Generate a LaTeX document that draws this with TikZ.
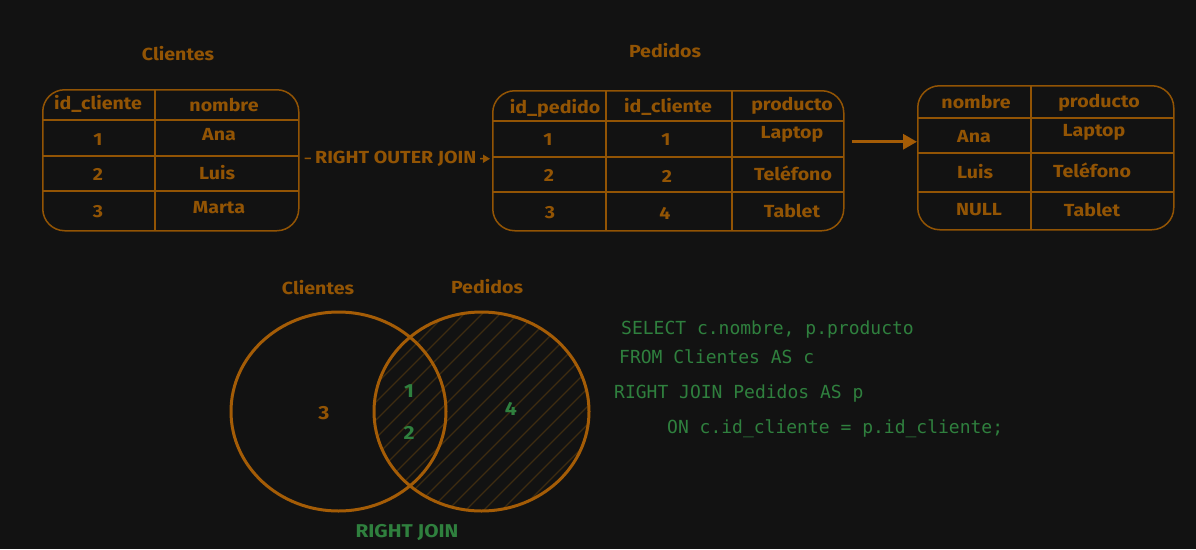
\documentclass[tikz,border=0pt]{standalone}
\usepackage{fontspec}
\setmainfont{Fira Sans}[BoldFeatures={FakeStretch=1.12}]
\setmonofont{DejaVu Sans Mono}
\usetikzlibrary{arrows.meta,calc}
\definecolor{bg}{RGB}{18,18,18}
\definecolor{org}{RGB}{146,84,4}
\definecolor{orgc}{RGB}{164,92,6}
\definecolor{grn}{RGB}{47,128,62}
\definecolor{hatchc}{RGB}{62,44,16}
\tikzset{
  tbl/.style={draw=org, line width=1.5pt, rounded corners=22pt, anchor=north west, inner sep=0pt},
  tline/.style={draw=org, line width=1.5pt},
  cell/.style={text=org, font=\fontsize{17.5}{20}\selectfont\bfseries, inner sep=0pt},
  ttl/.style={text=org, font=\fontsize{17.5}{20}\selectfont\bfseries, inner sep=0pt},
  venn/.style={draw=orgc, line width=3pt},
  gnum/.style={text=grn, font=\fontsize{19}{22}\selectfont\bfseries, inner sep=0pt},
  code/.style={text=grn, font=\fontsize{18}{20}\selectfont\ttfamily, anchor=base west, inner sep=0pt},
}
\begin{document}
\begin{tikzpicture}[x=1pt,y=-1pt]
\fill[bg] (0,0) rectangle (1196,549);
\useasboundingbox (0,0) rectangle (1196,549);

% ---------- Clientes table
\node[ttl] (tc) at (178,54) {Clientes};
\node[tbl, minimum width=256pt, minimum height=141pt] (ct) at (42,89) {};
\draw[tline] (155,89) -- (155,230);
\draw[tline] (42,120) -- (298,120);
\draw[tline] (42,156) -- (298,156);
\draw[tline] (42,191) -- (298,191);
\node[cell] at (98,104) {id\_cliente};
\node[cell] at (224,105) {nombre};
\node[cell] at (98,140) {1};
\node[cell] at (98,174) {2};
\node[cell] at (98,212) {3};
\node[cell] at (219,135) {Ana};
\node[cell] at (217,173) {Luis};
\node[cell] at (219,208) {Marta};

% ---------- Pedidos table
\node[ttl] (tp) at (665,51) {Pedidos};
\node[tbl, minimum width=351pt, minimum height=140pt] (pt) at (492,90) {};
\draw[tline] (606,90) -- (606,230);
\draw[tline] (732,90) -- (732,230);
\draw[tline] (492,121) -- (843,121);
\draw[tline] (492,157) -- (843,157);
\draw[tline] (492,192) -- (843,192);
\node[cell] at (555,108) {id\_pedido};
\node[cell] at (668,107) {id\_cliente};
\node[cell] at (792,106) {producto};
\node[cell] at (548,140) {1};
\node[cell] at (549,175) {2};
\node[cell] at (550,213) {3};
\node[cell] at (666,140) {1};
\node[cell] at (667,176) {2};
\node[cell] at (665,213) {4};
\node[cell] at (792,134) {Laptop};
\node[cell] at (793,173) {Teléfono};
\node[cell] at (792,211) {Tablet};

% ---------- Result table
\node[tbl, minimum width=256pt, minimum height=144pt] (rt) at (917,85) {};
\draw[tline] (1031,85) -- (1031,229);
\draw[tline] (917,118) -- (1173,118);
\draw[tline] (917,153) -- (1173,153);
\draw[tline] (917,192) -- (1173,192);
\node[cell] at (976,102) {nombre};
\node[cell] at (1099,103) {producto};
\node[cell] at (974,137) {Ana};
\node[cell] at (975,172) {Luis};
\node[cell] at (979,210) {NULL};
\node[cell] at (1094,132) {Laptop};
\node[cell] at (1092,170) {Teléfono};
\node[cell] at (1092,210) {Tablet};

% ---------- connectors
\draw[tline, -{Triangle[length=7pt,width=8pt]}, shorten <=5pt, shorten >=2pt]
  ([yshift=2pt]ct.east) -- node[fill=bg, cell, inner xsep=4pt, inner ysep=3pt] {RIGHT OUTER JOIN} ([yshift=2pt]pt.west);
\draw[draw=orgc, line width=3pt, -{Triangle[length=14pt,width=15pt]}, shorten <=7pt]
  ([yshift=19pt]pt.east) -- ([yshift=16pt]rt.west);

% ---------- Venn
\begin{scope}
  \clip (481.5,411.5) ellipse [x radius=107.5pt, y radius=99.5pt];
  \foreach \i in {140,158,...,600} \draw[hatchc, line width=1.2pt] (\i,530) -- ++(240,-240);
\end{scope}
\draw[venn] (338.5,411.5) ellipse [x radius=107.5pt, y radius=99.5pt];
\draw[venn] (481.5,411.5) ellipse [x radius=107.5pt, y radius=99.5pt];
\node[ttl] (vc) at (318,288) {Clientes};
\node[ttl] (vp) at (487,287) {Pedidos};
\node[cell, font=\fontsize{19}{22}\selectfont\bfseries] (n3) at (324,413) {3};
\node[gnum] (n1) at (409,391) {1};
\node[gnum] (n2) at (409,433) {2};
\node[gnum] (n4) at (511,409) {4};
\node[gnum, font=\fontsize{18.5}{22}\selectfont\bfseries] (rj) at (407,532) {RIGHT JOIN};

% ---------- SQL
\node[code] (l1) at (621,334) {SELECT c.nombre, p.producto};
\node[code] (l2) at (619,363) {FROM Clientes AS c};
\node[code] (l3) at (614,398) {RIGHT JOIN Pedidos AS p};
\node[code] (l4) at (667,433) {ON c.id\_cliente = p.id\_cliente;};
\end{tikzpicture}
\end{document}
